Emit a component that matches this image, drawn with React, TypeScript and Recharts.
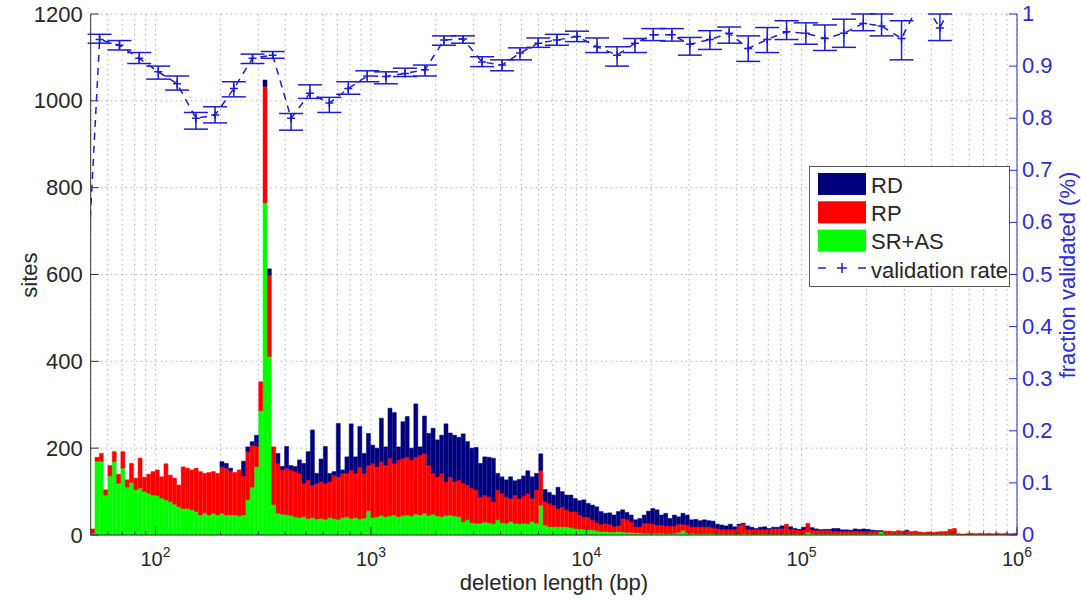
import React from 'react';
import { ComposedChart, Bar, Line, XAxis, YAxis, CartesianGrid, ErrorBar } from 'recharts';

// Histogram binning: log-spaced bins, 50 per decade, starting at 50 bp
const BIN_START_BP = 50;
const BINS_PER_DECADE = 50;

// Sites per bin, by discovery method (stacked bottom to top)
const SR_AS = [
  4, 170, 170, 92, 136, 169, 119, 154, 110, 121,
  104, 108, 100, 96, 92, 91, 85, 81, 77, 71,
  65, 61, 61, 58, 54, 46, 51, 46, 50, 46,
  50, 46, 46, 46, 44, 46, 81, 110, 157, 286,
  765, 411, 70, 50, 48, 47, 45, 42, 40, 42,
  38, 40, 37, 38, 36, 40, 38, 36, 40, 42,
  38, 40, 37, 39, 56, 40, 42, 45, 42, 44,
  46, 42, 45, 46, 44, 48, 46, 50, 45, 48,
  44, 42, 45, 46, 44, 42, 30, 35, 28, 27,
  27, 30, 28, 26, 35, 28, 27, 31, 27, 26,
  27, 26, 31, 27, 69, 23, 19, 19, 19, 19,
  19, 17, 15, 14, 13, 12, 12, 10, 8, 8,
  7, 7, 8, 7, 6, 6, 5, 5, 4, 4,
  4, 4, 4, 3, 3, 4, 6, 11, 5, 4,
  3, 3, 3, 3, 3, 3, 2, 2, 2, 2,
  2, 3, 2, 2, 2, 2, 2, 2, 2, 2,
  2, 2, 2, 2, 2, 2, 6, 3, 2, 2,
  2, 2, 2, 2, 2, 2, 2, 2, 2, 2,
  2, 2, 2, 8, 2, 2, 2, 2, 2, 2,
  2, 2, 2, 2, 2, 2, 2, 2, 2, 2,
  2, 1, 1, 1, 1, 1, 1, 1, 1, 1,
  1, 1, 1, 1, 1,
];

const RP = [
  10, 9, 18, 12, 24, 23, 21, 38, 17, 44,
  27, 69, 33, 44, 54, 59, 49, 83, 61, 60,
  50, 96, 93, 92, 100, 100, 91, 98, 96, 96,
  107, 108, 102, 98, 106, 90, 111, 97, 48, 67,
  268, 188, 133, 115, 102, 107, 105, 104, 102, 77,
  89, 75, 82, 85, 83, 83, 100, 98, 102, 100,
  112, 102, 120, 103, 105, 125, 115, 124, 119, 133,
  119, 131, 132, 134, 129, 132, 138, 138, 116, 94,
  90, 100, 78, 88, 79, 85, 89, 80, 80, 77,
  61, 62, 60, 51, 69, 68, 61, 53, 65, 58,
  63, 70, 53, 77, 79, 54, 54, 50, 42, 46,
  39, 37, 39, 32, 29, 29, 23, 19, 17, 19,
  18, 13, 14, 31, 30, 24, 14, 14, 23, 23,
  22, 19, 19, 18, 18, 17, 19, 14, 18, 15,
  16, 16, 16, 16, 14, 12, 11, 11, 11, 11,
  21, 22, 11, 11, 11, 11, 11, 11, 13, 13,
  13, 23, 11, 11, 10, 10, 21, 9, 9, 9,
  9, 9, 7, 7, 7, 7, 7, 7, 7, 7,
  7, 7, 7, 1, 7, 7, 6, 8, 7, 8,
  6, 7, 5, 4, 5, 4, 5, 6, 6, 11,
  13, 2, 1, 2, 3, 2, 3, 2, 3, 2,
  3, 2, 3, 2, 3,
];

const RD = [
  0, 0, 0, 0, 0, 0, 0, 0, 0, 0,
  0, 0, 0, 0, 0, 0, 0, 0, 0, 0,
  0, 0, 0, 0, 0, 0, 0, 0, 0, 0,
  12, 11, 6, 0, 0, 34, 11, 8, 25, 0,
  15, 14, 0, 23, 8, 50, 10, 12, 31, 46,
  65, 127, 23, 52, 85, 19, 8, 123, 8, 38,
  106, 38, 93, 46, 73, 42, 43, 100, 42, 115,
  117, 30, 84, 93, 27, 122, 19, 86, 73, 104,
  85, 88, 133, 101, 107, 98, 114, 100, 92, 98,
  77, 88, 91, 100, 38, 38, 39, 50, 33, 44,
  46, 52, 50, 38, 39, 28, 25, 23, 49, 35,
  34, 38, 30, 33, 39, 32, 34, 36, 29, 23,
  26, 26, 32, 20, 16, 16, 16, 19, 19, 28,
  35, 35, 23, 29, 17, 25, 17, 25, 23, 16,
  17, 14, 16, 14, 15, 10, 10, 8, 12, 6,
  2, 2, 8, 5, 2, 5, 6, 2, 3, 3,
  6, 0, 6, 2, 1, 6, 0, 5, 3, 1,
  2, 2, 6, 6, 3, 3, 2, 5, 4, 5,
  4, 2, 1, 1, 0, 0, 0, 0, 0, 1,
  0, 0, 0, 0, 0, 0, 0, 0, 0, 0,
  0, 0, 0, 0, 0, 0, 0, 0, 0, 0,
  0, 0, 0, 0, 0,
];

// Validation rate per length class: centre length (bp), rate, lower and upper bound
const VAL_LENGTH = [
  45, 55, 68, 84, 103, 126, 154, 189, 231, 282,
  350, 426, 521, 641, 785, 962, 1175, 1439, 1782, 2183,
  2677, 3281, 4064, 4923, 5986, 7310, 9057, 11220, 13900, 16840,
  20480, 24980, 30280, 37510, 46090, 56480, 69200, 85130, 104600, 128200,
  157100, 193200, 235000, 291000, 360500, 438500, 537000, 658000, 806000,
];
const VAL_RATE = [
  0.26, 0.951, 0.94, 0.915, 0.889, 0.866, 0.8, 0.806, 0.857, 0.915,
  0.921, 0.8, 0.848, 0.829, 0.857, 0.881, 0.88, 0.886, 0.893, 0.95,
  0.952, 0.908, 0.902, 0.925, 0.944, 0.95, 0.957, 0.937, 0.921, 0.944,
  0.96, 0.96, 0.942, 0.951, 0.963, 0.934, 0.951, 0.966, 0.963, 0.953,
  0.963, 0.982, 0.977, 0.953, 1.03, 0.973, 1.05, 1.05, 1.04,
];
const VAL_LOW = [
  null, 0.944, 0.931, 0.905, 0.875, 0.854, 0.779, 0.791, 0.841, 0.905,
  0.915, 0.777, 0.838, 0.811, 0.846, 0.87, 0.866, 0.88, 0.881, 0.94,
  0.944, 0.899, 0.891, 0.912, 0.936, 0.94, 0.947, 0.926, 0.9, 0.926,
  0.949, 0.948, 0.921, 0.932, 0.944, 0.909, 0.926, 0.951, 0.942, 0.93,
  0.936, 0.968, 0.958, 0.912, null, 0.949, null, null, null,
];
const VAL_HIGH = [
  null, 0.961, 0.949, 0.926, 0.9, 0.881, 0.811, 0.822, 0.87, 0.923,
  0.928, 0.809, 0.864, 0.84, 0.87, 0.891, 0.889, 0.896, 0.902, 0.958,
  0.958, 0.918, 0.912, 0.935, 0.954, 0.961, 0.967, 0.954, 0.937, 0.953,
  0.972, 0.972, 0.955, 0.968, 0.975, 0.958, 0.974, 0.987, 0.983, 0.979,
  0.99, 1.0, 1.0, 0.987, null, 1.0, null, null, null,
];

const X_MAJOR = [100, 1000, 10000, 100000, 1000000];
const X_MINOR = [
  60, 70, 80, 90,
  200, 300, 400, 500, 600, 700, 800, 900,
  2000, 3000, 4000, 5000, 6000, 7000, 8000, 9000,
  20000, 30000, 40000, 50000, 60000, 70000, 80000, 90000,
  200000, 300000, 400000, 500000, 600000, 700000, 800000, 900000,
];
const SITES_TICKS = [0, 200, 400, 600, 800, 1000, 1200];
const FRACTION_TICKS = [0, 0.1, 0.2, 0.3, 0.4, 0.5, 0.6, 0.7, 0.8, 0.9, 1];

const FONT = '"Liberation Sans", Arial, Helvetica, sans-serif';
const BLUE = '#1c1cd6';
const AXIS_BLUE = '#2a2ae0';
const NAVY = '#00007f';
const RED = '#ff0000';
const GREEN = '#00ff00';
const INK = '#262626';

const X_TICKS = [...X_MINOR, ...X_MAJOR].sort((a, b) => a - b);

const histData = SR_AS.map((v, i) => ({
  bin: Math.round(BIN_START_BP * Math.pow(10, i / BINS_PER_DECADE)),
  srAs: v,
  rp: RP[i],
  rd: RD[i],
}));

const valData = VAL_LENGTH.map((len, i) => ({
  len,
  rate: VAL_RATE[i],
  err:
    VAL_LOW[i] == null || VAL_HIGH[i] == null
      ? undefined
      : [VAL_RATE[i] - (VAL_LOW[i] as number), (VAL_HIGH[i] as number) - VAL_RATE[i]],
}));

const BottomTick = (props: any) => {
  const { x, y, payload } = props;
  const v = payload.value;
  const major = X_MAJOR.includes(v);
  return (
    <g>
      <line x1={x} x2={x} y1={y} y2={y - (major ? 8 : 4)} stroke="#333" strokeWidth={1} />
      {major && (
        <text x={x} y={y + 31} textAnchor="middle" fontSize={20} fill={INK} fontFamily={FONT}>
          <tspan>10</tspan>
          <tspan dy={-9} fontSize={14}>{Math.round(Math.log10(v))}</tspan>
        </text>
      )}
    </g>
  );
};

const TopTick = (props: any) => {
  const { x, y, payload } = props;
  const major = X_MAJOR.includes(payload.value);
  return <line x1={x} x2={x} y1={y} y2={y + (major ? 8 : 4)} stroke="#333" strokeWidth={1} />;
};

const LeftTick = (props: any) => {
  const { x, y, payload } = props;
  return (
    <g>
      <line x1={x} x2={x + 8} y1={y} y2={y} stroke="#333" strokeWidth={1} />
      <text x={x - 8} y={y + 7.5} textAnchor="end" fontSize={22} fill={INK} fontFamily={FONT}>
        {payload.value}
      </text>
    </g>
  );
};

const RightTick = (props: any) => {
  const { x, y, payload } = props;
  return (
    <g>
      <line x1={x} x2={x - 8} y1={y} y2={y} stroke={AXIS_BLUE} strokeWidth={1} />
      <text x={x + 5} y={y + 7} textAnchor="start" fontSize={22} fill={AXIS_BLUE} fontFamily={FONT}>
        {payload.value}
      </text>
    </g>
  );
};

const PlusDot = (props: any) => {
  const { cx, cy, index } = props;
  if (cx == null || cy == null) return <g key={`dot-${index}`} />;
  return (
    <path
      key={`dot-${index}`}
      d={`M${cx - 4},${cy}H${cx + 4}M${cx},${cy - 4}V${cy + 4}`}
      stroke={BLUE}
      strokeWidth={1.5}
      fill="none"
    />
  );
};

const legendRows = [
  { label: 'RD', color: NAVY },
  { label: 'RP', color: RED },
  { label: 'SR+AS', color: GREEN },
];

export default function App() {
  return (
    <div style={{ position: 'absolute', left: 0, top: 0, width: 1081, height: 601, background: '#fff' }}>
      <ComposedChart
        width={1081}
        height={601}
        data={histData}
        margin={{ top: 14, right: 10, bottom: 21, left: 10.7 }}
        barCategoryGap={0}
        barGap={0}
      >
        <XAxis
          xAxisId="len"
          dataKey="len"
          type="number"
          scale="log"
          domain={[50, 1000000]}
          allowDataOverflow
          ticks={X_TICKS}
          interval={0}
          tick={<BottomTick />}
          tickLine={false}
          tickSize={0}
          tickMargin={0}
          height={45}
          stroke="#333"
        />
        <XAxis xAxisId="bins" dataKey="bin" type="category" hide height={0} />
        <XAxis
          xAxisId="top"
          orientation="top"
          type="number"
          scale="log"
          domain={[50, 1000000]}
          allowDataOverflow
          ticks={X_TICKS}
          interval={0}
          tick={<TopTick />}
          tickLine={false}
          tickSize={0}
          tickMargin={0}
          height={0}
          stroke="#333"
        />
        <YAxis
          yAxisId="sites"
          domain={[0, 1200]}
          ticks={SITES_TICKS}
          interval={0}
          width={80}
          tick={<LeftTick />}
          tickLine={false}
          tickSize={0}
          tickMargin={0}
          stroke="#333"
        />
        <YAxis
          yAxisId="frac"
          orientation="right"
          domain={[0, 1]}
          allowDataOverflow
          ticks={FRACTION_TICKS}
          interval={0}
          width={54}
          tick={<RightTick />}
          tickLine={false}
          tickSize={0}
          tickMargin={0}
          stroke={AXIS_BLUE}
        />
        <CartesianGrid xAxisId="len" yAxisId="sites" stroke="#b4b4b4" strokeDasharray="1.5 3.5" />
        <Bar xAxisId="bins" yAxisId="sites" dataKey="srAs" stackId="s" fill={GREEN} stroke={GREEN} strokeWidth={0.5} isAnimationActive={false} />
        <Bar xAxisId="bins" yAxisId="sites" dataKey="rp" stackId="s" fill={RED} stroke={RED} strokeWidth={0.5} isAnimationActive={false} />
        <Bar xAxisId="bins" yAxisId="sites" dataKey="rd" stackId="s" fill={NAVY} stroke={NAVY} strokeWidth={0.5} isAnimationActive={false} />
        <Line
          xAxisId="len"
          yAxisId="frac"
          data={valData}
          dataKey="rate"
          type="linear"
          stroke={BLUE}
          strokeWidth={1.5}
          strokeDasharray="7 6"
          dot={PlusDot}
          activeDot={false}
          isAnimationActive={false}
        >
          <ErrorBar dataKey="err" width={12} stroke={BLUE} strokeWidth={1.5} direction="y" />
        </Line>
      </ComposedChart>

      <svg
        width={1081}
        height={601}
        style={{ position: 'absolute', left: 0, top: 0, pointerEvents: 'none' }}
        fontFamily={FONT}
      >
        <text x={37} y={275} transform="rotate(-90 37 275)" textAnchor="middle" fontSize={22} fill={INK}>
          sites
        </text>
        <text x={554} y={590} textAnchor="middle" fontSize={22} fill={INK}>
          deletion length (bp)
        </text>
        <text x={1075} y={275} transform="rotate(-90 1075 275)" textAnchor="middle" fontSize={22} fill={AXIS_BLUE}>
          fraction validated (%)
        </text>

        <rect x={809.5} y={166.5} width={200} height={120} fill="#fff" stroke="#555" strokeWidth={1} />
        {legendRows.map((r, i) => (
          <g key={r.label}>
            <rect x={818} y={173 + i * 28.3} width={48} height={22} fill={r.color} />
            <text x={871} y={193 + i * 28} fontSize={22} fill={INK}>
              {r.label}
            </text>
          </g>
        ))}
        <line x1={818} x2={826} y1={268} y2={268} stroke={BLUE} strokeWidth={1.5} />
        <path d="M837,268H847M842,263V273" stroke={BLUE} strokeWidth={1.5} />
        <line x1={858} x2={866} y1={268} y2={268} stroke={BLUE} strokeWidth={1.5} />
        <text x={871} y={278} fontSize={22} fill={INK}>
          validation rate
        </text>
      </svg>
    </div>
  );
}
